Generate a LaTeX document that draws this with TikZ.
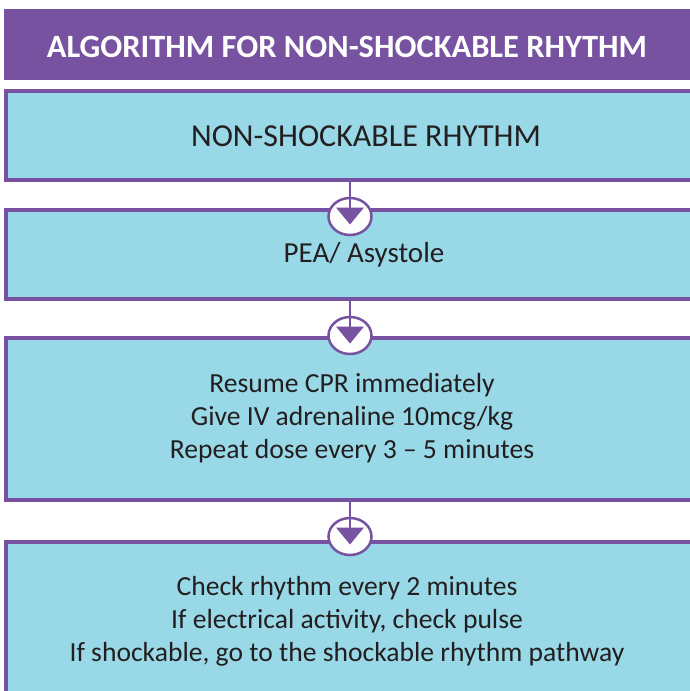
\documentclass[tikz,border=0pt]{standalone}
\usepackage{fontspec}
\setmainfont{Carlito}
\usetikzlibrary{calc,shapes.geometric}
\definecolor{algpurple}{RGB}{118,82,160}
\definecolor{boxblue}{RGB}{153,216,231}
\definecolor{inkgray}{RGB}{35,31,32}
\tikzset{
	stage/.style={rectangle, draw=algpurple, line width=3.5pt, fill=boxblue, minimum width=700pt, anchor=north west, inner sep=0pt, outer sep=0pt},
	steptext/.style={text=inkgray, font=\fontsize{27.6}{33}\selectfont, align=center},
	ring/.style={ellipse, draw=algpurple, line width=2.5pt, fill=white, minimum width=43pt, minimum height=37pt, inner sep=0pt},
	flow/.style={draw=algpurple, line width=2.5pt}
}

\begin{document}
\begin{tikzpicture}[x=1pt,y=-1pt]
		%%%%% START %%%%%
		\useasboundingbox (0,0) rectangle (690,691);
		
		\node[fill=algpurple, anchor=north west, minimum width=700pt, minimum height=71pt, inner sep=0pt, outer sep=0pt] (title) at (4,9) {};
		\node[text=white, font=\fontsize{32.5}{36}\selectfont\bfseries] (titletext) at (347,47) {ALGORITHM FOR NON-SHOCKABLE RHYTHM};
		
		\node[stage, minimum height=89pt] (nsr) at (6,91) {};
		\node[stage, minimum height=89pt] (pea) at (6,210) {};
		\node[stage, minimum height=162pt] (cpr) at (6,338) {};
		\node[stage, minimum height=170pt] (chk) at (6,542) {};
		
		\node[steptext, font=\fontsize{32}{36}\selectfont] (nsrtext) at (366,136) {NON-SHOCKABLE RHYTHM};
		\node[steptext, font=\fontsize{29}{33}\selectfont] (peatext) at (364,255) {PEA/ Asystole};
		\node[steptext] (cprtext) at (352,418) {Resume CPR immediately\\Give IV adrenaline 10mcg/kg\\Repeat dose every 3 -- 5 minutes};
		\node[steptext] (chktext) at (347,621) {Check rhythm every 2 minutes\\If electrical activity, check pulse\\If shockable, go to the shockable rhythm pathway};
		
		% arrows between the boxes
		\foreach \from/\ring/\y in {nsr/r1/216.5, pea/r2/335.5, cpr/r3/536.5} {
			\node[ring] (\ring) at (350,\y) {};
			\coordinate (\ring top) at ($(\ring)+(0,-9)$);
			\draw[flow] (\from.south -| \ring) -- (\ring top);
			\fill[algpurple] ($(\ring)+(-14,-9)$) -- ($(\ring)+(14,-9)$) -- ($(\ring)+(0,8)$) -- cycle;
		}
		%%%%% END %%%%%
\end{tikzpicture}
\end{document}
